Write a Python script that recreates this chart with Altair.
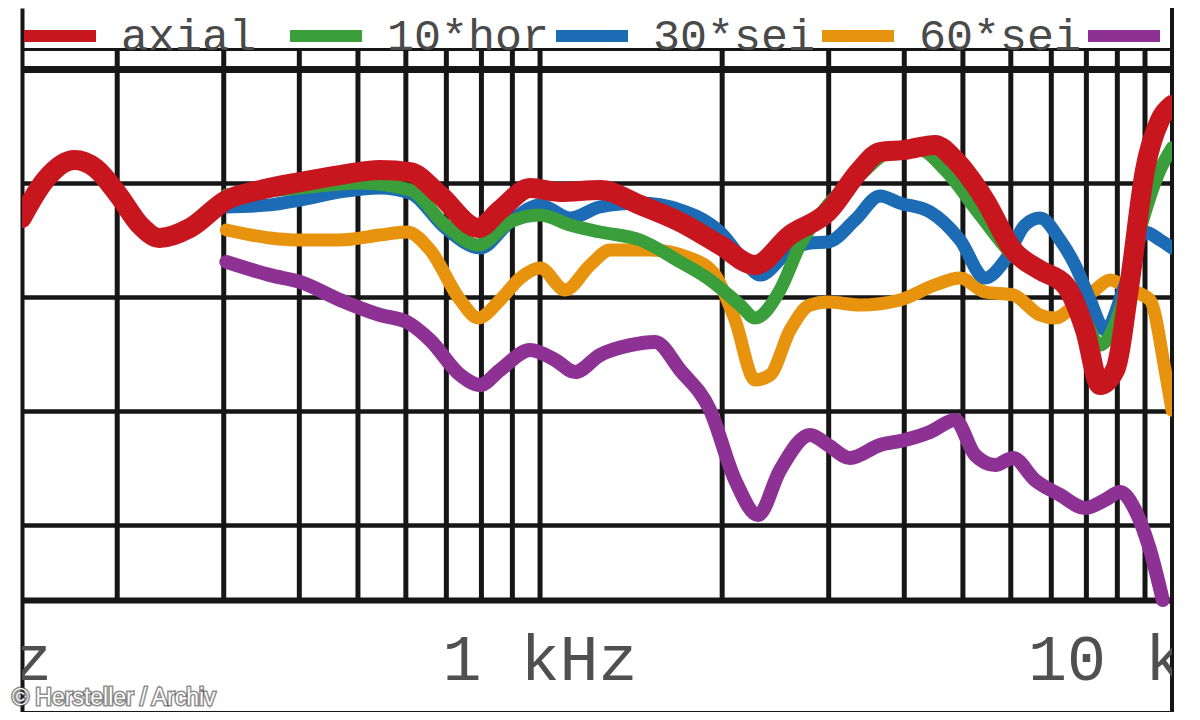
import altair as alt
import pandas as pd

# ---- data (frequency in Hz, level in dB) ----
series_names = ["axial", "10*hor", "30*sei", "60*sei", "90*sei"]
series_colors = ["#c8161e", "#3a9e3a", "#1b6bb5", "#e8930e", "#8e3194"]

axial_f = [139, 152, 170, 184, 201, 218, 235, 264, 303, 344, 401, 467, 544, 610, 683, 790, 859, 963,
           1079, 1257, 1463, 1704, 1984, 2267, 2590, 2992, 3380, 3648, 4011, 4498, 4853, 5439, 6051,
           6705, 7378, 7960, 8428, 8923, 9448, 10000, 10587, 11082]
axial_db = [88.46, 90.13, 91.01, 90.66, 89.47, 88.16, 87.59, 88.03, 89.25, 89.69, 90.04, 90.35, 90.57,
            90.48, 89.47, 88.03, 88.82, 89.78, 89.61, 89.69, 89.04, 88.29, 87.28, 86.40, 87.72, 88.73,
            90.57, 91.36, 91.45, 91.67, 91.01, 89.25, 87.06, 86.18, 85.53, 83.55, 81.14, 81.80, 85.75,
            90.57, 92.76, 93.42]

hor10_f = [303, 401, 504, 610, 697, 790, 892, 1000, 1121, 1257, 1463, 1704, 1910, 2141, 2267, 2493,
           2690, 2992, 3380, 3789, 4248, 4672, 5337, 6051, 6705, 7378, 7960, 8428, 9095, 9811, 10587,
           11082]
hor10_db = [89.47, 89.78, 90.00, 89.69, 88.16, 87.28, 88.29, 88.60, 88.16, 87.85, 87.50, 86.54, 85.75,
            84.65, 84.08, 85.31, 87.28, 89.04, 90.35, 91.36, 91.45, 90.57, 88.60, 86.84, 86.18, 85.53,
            83.99, 82.89, 84.43, 87.94, 90.57, 91.54]

s30_f = [303, 358, 401, 467, 544, 610, 697, 796, 892, 1000, 1121, 1257, 1463, 1704, 1984, 2182, 2310,
         2590, 2795, 2992, 3317, 3648, 3936, 4412, 4946, 5439, 5870, 6334, 6705, 7238, 7663, 8113,
         8590, 9269, 10000, 10587, 11082]
s30_db = [88.95, 89.04, 89.25, 89.61, 89.78, 89.56, 88.03, 87.15, 88.29, 89.04, 88.46, 88.95, 89.12,
          88.82, 87.85, 86.54, 85.96, 87.06, 87.37, 87.41, 88.38, 89.43, 89.12, 88.73, 87.50, 85.83,
          86.62, 88.16, 88.46, 87.50, 86.40, 84.87, 83.55, 85.53, 87.85, 87.50, 87.15]

s60_f = [303, 358, 401, 467, 544, 603, 658, 738, 790, 859, 927, 1000, 1100, 1210, 1306, 1520, 1770,
         1947, 2101, 2267, 2400, 2590, 2795, 2992, 3380, 3936, 4498, 4946, 5439, 6051, 6705, 7101,
         7663, 8270, 8754, 9448, 10193, 10792, 11082]
s60_db = [87.94, 87.59, 87.50, 87.50, 87.72, 87.85, 87.06, 84.87, 84.08, 84.87, 85.83, 86.27, 85.31,
          86.40, 87.06, 87.06, 86.71, 85.96, 83.99, 81.36, 81.58, 83.55, 84.65, 84.78, 84.65, 84.87,
          85.53, 85.83, 85.22, 85.09, 84.21, 84.08, 84.65, 85.31, 85.75, 85.31, 84.87, 81.80, 80.04]

s90_f = [303, 358, 401, 467, 544, 603, 658, 738, 796, 859, 963, 1059, 1143, 1257, 1409, 1549, 1704,
         1910, 2101, 2293, 2493, 2795, 2992, 3254, 3648, 4011, 4412, 4853, 5236, 5651, 6051, 6580,
         7238, 7960, 8590, 9095, 9630, 10193, 10700]
s90_db = [86.54, 85.96, 85.66, 84.87, 84.21, 83.90, 83.11, 81.58, 81.14, 81.80, 82.68, 82.24, 81.71,
          82.46, 82.89, 83.03, 81.80, 80.04, 76.97, 75.44, 77.41, 78.95, 78.51, 77.94, 78.51, 78.73,
          79.08, 79.61, 78.07, 77.63, 77.94, 76.97, 76.32, 75.75, 76.10, 76.45, 75.66, 73.90, 71.71]

grid_freqs = [200, 300, 400, 500, 600, 700, 800, 900, 1000,
              2000, 3000, 4000, 5000, 6000, 7000, 8000, 9000, 10000]
level_lines = [95.88, 95.0, 90.0, 85.0, 80.0, 75.0, 71.71]

tick_label_freqs = [100, 1000, 10000]
tick_label_texts = ["100 Hz", "1 kHz", "10 kHz"]

credit_text = ["© Hersteller / Archiv"]

# ---- tables ----
curve_lists = [(axial_f, axial_db), (hor10_f, hor10_db), (s30_f, s30_db), (s60_f, s60_db), (s90_f, s90_db)]
curves = {name: pd.DataFrame({"f": f, "db": d, "kurve": name})
          for name, (f, d) in zip(series_names, curve_lists)}
grid_df = pd.DataFrame({"f": grid_freqs})
labels_df = pd.DataFrame({"f": tick_label_freqs, "txt": tick_label_texts})
credit_df = pd.DataFrame({"txt": credit_text})

W, H = 1150, 704
INK = "#161616"

xscale = alt.Scale(type="log", domain=[139.2, 11082])
yscale = alt.Scale(domain=[66.80, 97.675], nice=False, zero=False)

color = alt.Color(
    "kurve:N",
    scale=alt.Scale(domain=series_names, range=series_colors),
    legend=alt.Legend(
        title=None, orient="none", legendX=-4, legendY=-14, direction="horizontal",
        columns=5, gridAlign="all", columnPadding=-60, padding=0,
        symbolType="stroke", symbolSize=5184, symbolStrokeWidth=12, symbolOpacity=1,
        labelFont="Liberation Mono", labelFontSize=45, labelColor="#4a4a4a",
        labelOffset=19, labelLimit=0,
    ),
)

base_x = alt.X("f:Q", scale=xscale,
               axis=alt.Axis(title=None, labels=False, ticks=False, grid=False,
                             domain=True, domainColor=INK, domainWidth=3))
base_y = alt.Y("db:Q", scale=yscale,
               axis=alt.Axis(title=None, labels=False, ticks=False, domain=True,
                             domainColor=INK, domainWidth=4,
                             values=level_lines, grid=True, gridColor=INK, gridOpacity=1,
                             gridWidth=alt.ConditionalAxisNumber(
                                 condition=[{"test": "datum.value == 95", "value": 7},
                                            {"test": "datum.value < 72", "value": 6},
                                            {"test": "datum.value > 95.5", "value": 3}],
                                 value=4.5)))

vgrid = alt.Chart(grid_df).mark_rule(color=INK, strokeWidth=5).encode(
    x=alt.X("f:Q", scale=xscale),
    y=alt.datum(95.88), y2=alt.datum(71.71),
)

right_border = alt.Chart(grid_df).mark_rule(color=INK, strokeWidth=3).encode(
    x=alt.value(W), y=alt.value(0), y2=alt.value(H)
)

widths = {"axial": 20, "10*hor": 13, "30*sei": 13, "60*sei": 13, "90*sei": 14}
draw_order = ["90*sei", "60*sei", "30*sei", "10*hor", "axial"]

line_layers = []
for name in draw_order:
    line_layers.append(
        alt.Chart(curves[name]).mark_line(
            strokeWidth=widths[name], interpolate="monotone", clip=True,
            strokeCap="round", strokeJoin="round"
        ).encode(x=base_x, y=base_y, color=color)
    )

tick_text = alt.Chart(labels_df).mark_text(
    font="Liberation Mono", fontSize=65, color="#505050", baseline="middle", align="center",
    clip=True
).encode(x=alt.X("f:Q", scale=xscale), y=alt.datum(69.08), text="txt:N")

credit_shadow = alt.Chart(credit_df).mark_text(
    font="Liberation Sans", fontSize=23, fill="#444444", stroke="#444444", strokeWidth=3,
    strokeOpacity=0.6, align="left", baseline="middle"
).encode(x=alt.value(-10), y=alt.value(690), text="txt:N")

credit = alt.Chart(credit_df).mark_text(
    font="Liberation Sans", fontSize=23, fill="white", align="left", baseline="middle"
).encode(x=alt.value(-10), y=alt.value(690), text="txt:N")

chart = alt.layer(
    vgrid, right_border, *line_layers, tick_text, credit_shadow, credit
).properties(
    width=W, height=H,
    autosize=alt.AutoSizeParams(type="none"),
    padding={"left": 14, "top": 0, "right": 4, "bottom": 0},
    background="white",
).configure_view(stroke=None)

chart.save("out.html", embed_options={"renderer": "svg", "actions": False})
